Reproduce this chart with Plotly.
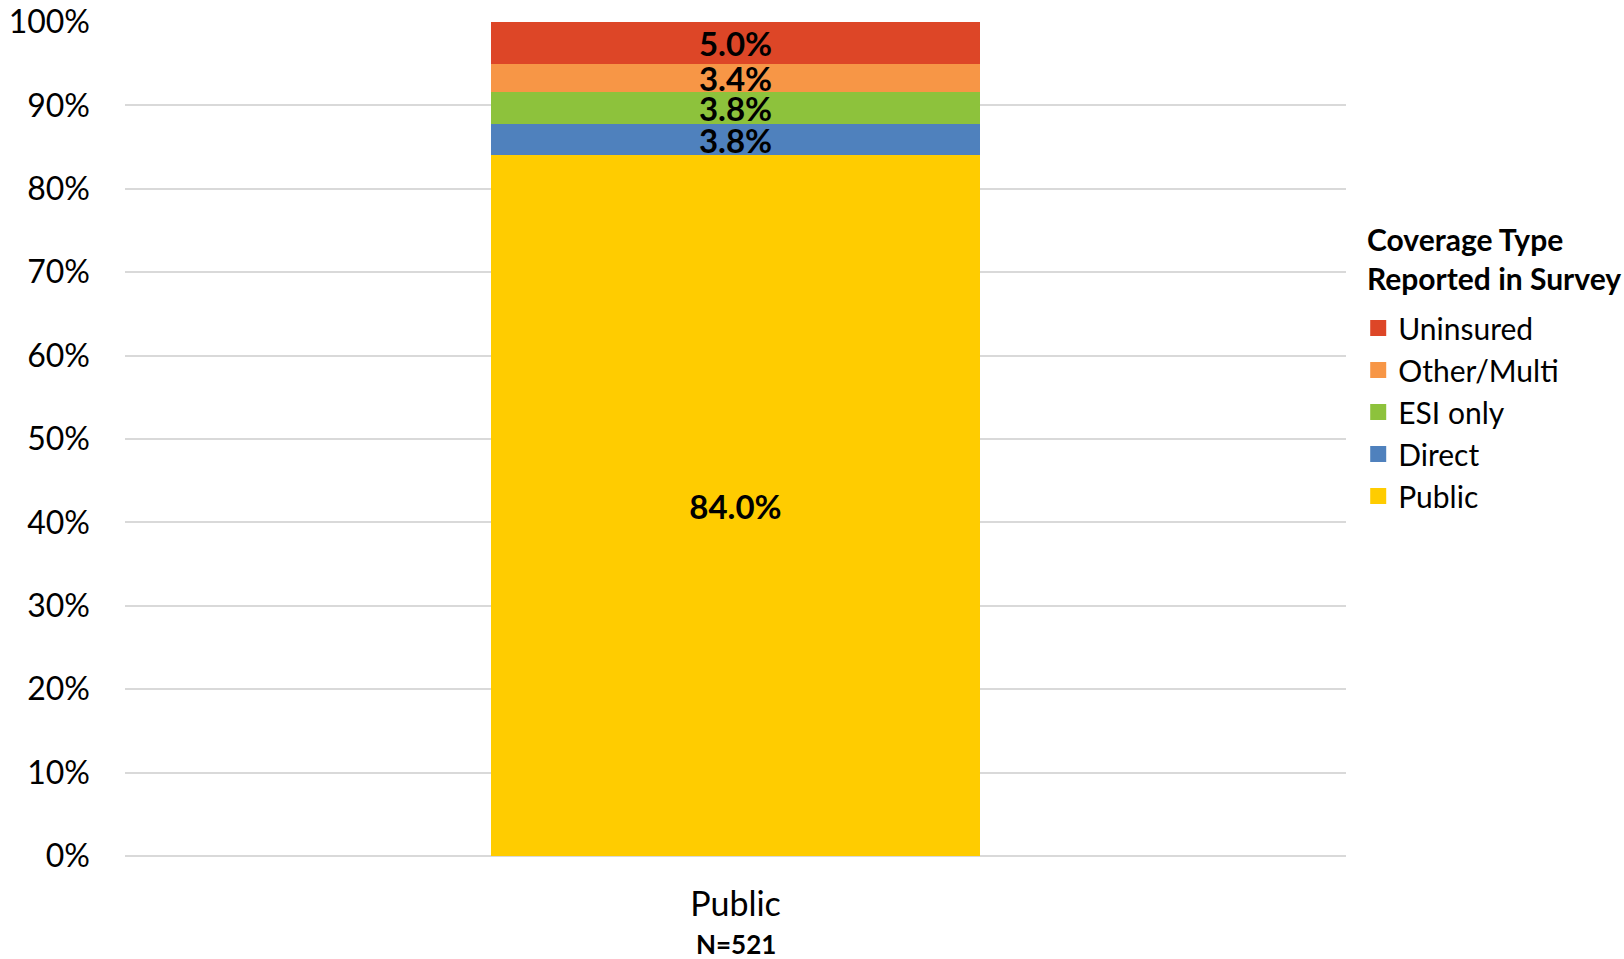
import plotly.graph_objects as go

# Coverage shares for the single "Public" group, bottom to top of the stack
categories = ["Public"]
series_names = ["Public", "Direct", "ESI only", "Other/Multi", "Uninsured"]
series_values = {
    "Public": [84.0],
    "Direct": [3.8],
    "ESI only": [3.8],
    "Other/Multi": [3.4],
    "Uninsured": [5.0],
}
series_colors = {
    "Public": "#FFCC00",
    "Direct": "#4F81BD",
    "ESI only": "#8DC23C",
    "Other/Multi": "#F79646",
    "Uninsured": "#DD4627",
}
y_ticks = list(range(0, 101, 10))
y_tick_labels = [f"{v}%" for v in y_ticks]
group_sizes = ["N=521"]
legend_title = "Coverage Type<br>Reported in Survey"

FONT = "Lato, Calibri, Carlito, 'Open Sans', sans-serif"

fig = go.Figure()
for name in series_names:
    fig.add_trace(go.Bar(
        x=categories,
        y=series_values[name],
        name=name,
        marker=dict(color=series_colors[name], line=dict(width=0)),
        text=[f"<b>{v:.1f}%</b>" for v in series_values[name]],
        textposition="inside",
        insidetextanchor="middle",
        constraintext="none",
        textangle=0,
        insidetextfont=dict(family=FONT, size=33, color="#000000"),
        hoverinfo="skip",
        showlegend=False,
    ))

# Legend entries drawn as square markers so the swatches are larger
for name in series_names:
    fig.add_trace(go.Scatter(
        x=[None],
        y=[None],
        mode="markers",
        name=name,
        marker=dict(symbol="square", size=18, color=series_colors[name]),
        hoverinfo="skip",
        showlegend=True,
    ))

# Sample size under each category label
for c, n in zip(categories, group_sizes):
    fig.add_annotation(
        text=f"<b>{n}</b>",
        xref="x", yref="paper",
        x=c, xanchor="center",
        y=(856 - 944) / 834, yanchor="middle",
        showarrow=False,
        font=dict(family=FONT, size=26, color="#000000"),
    )

fig.add_annotation(
    text=f"<b>{legend_title}</b>",
    xref="paper", yref="paper",
    x=1.0, xanchor="left",
    y=(856 - 220) / 834, yanchor="top",
    align="left",
    showarrow=False,
    xshift=19,
    yshift=1,
    font=dict(family=FONT, size=30, color="#000000"),
)

fig.update_layout(
    barmode="stack",
    bargap=0.6,
    width=1624,
    height=959,
    margin=dict(l=125, r=278, t=22, b=103, autoexpand=False),
    paper_bgcolor="white",
    plot_bgcolor="white",
    font=dict(family=FONT, size=32, color="#000000"),
    legend=dict(
        traceorder="reversed",
        x=1.010,
        xanchor="left",
        y=(856 - 302) / 834,
        yanchor="top",
        font=dict(family=FONT, size=30, color="#000000"),
        itemwidth=30,
        itemsizing="trace",
        bgcolor="rgba(0,0,0,0)",
    ),
    xaxis=dict(
        tickmode="array",
        tickvals=categories,
        ticktext=categories,
        showgrid=False,
        showline=False,
        ticks="",
        automargin=False,
        ticklabelstandoff=25,
        tickfont=dict(family=FONT, size=34, color="#000000"),
    ),
    yaxis=dict(
        range=[0, 100],
        tickmode="array",
        tickvals=y_ticks,
        ticktext=y_tick_labels,
        showgrid=True,
        gridcolor="#D9D9D9",
        gridwidth=2,
        zeroline=True,
        zerolinecolor="#D9D9D9",
        zerolinewidth=2,
        showline=False,
        ticks="",
        automargin=False,
        ticklabelstandoff=34,
        tickfont=dict(family=FONT, size=32, color="#000000"),
    ),
)

fig.write_html("out.html")
